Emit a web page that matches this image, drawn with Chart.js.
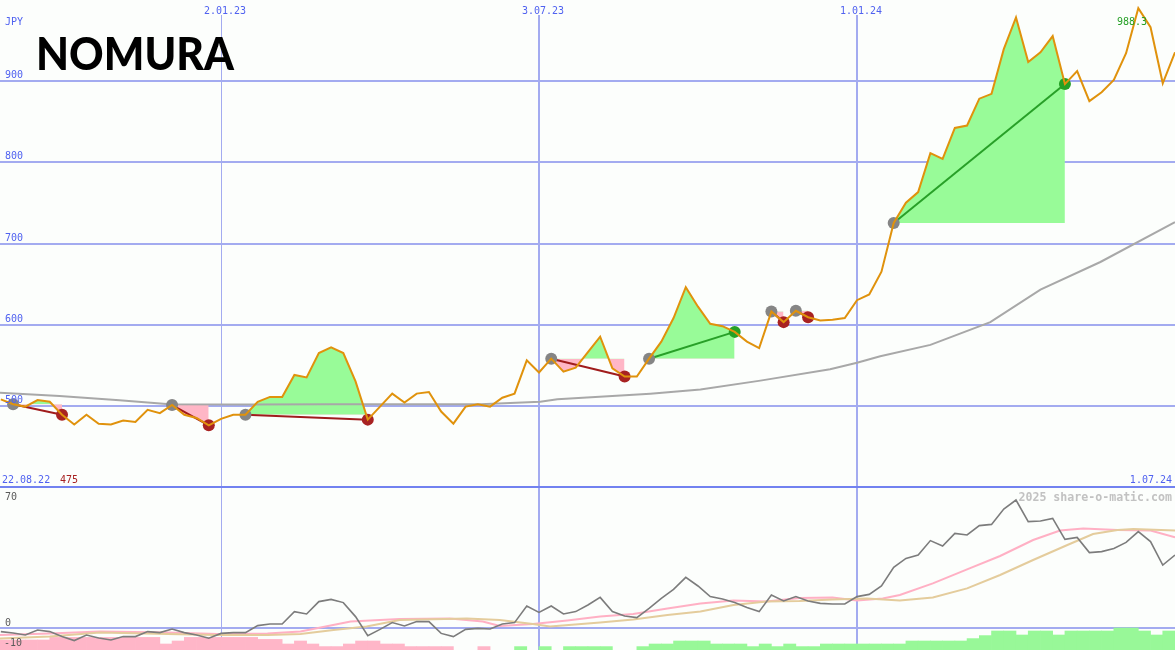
<!DOCTYPE html>
<html><head><meta charset="utf-8">
<script src="https://cdn.jsdelivr.net/npm/chart.js@4.4.0/dist/chart.umd.min.js"></script>
<style>
html,body{margin:0;padding:0;background:#fcfefc;}
#wrap{position:relative;width:1175px;height:650px;overflow:hidden;background:#fcfefc;}
#c1{position:absolute;left:0;top:0;}
#c2{position:absolute;left:0;top:488px;}
</style></head><body>
<div id="wrap"><canvas id="c1" width="1175" height="488"></canvas><canvas id="c2" width="1175" height="162"></canvas></div>
<script>
// ---------- DATA (weekly, week 1 = first visible week) ----------
const firstWeek = 1;
const price = [507,501,498,506,504,488,476,488,477,476,
481,479,494,490,500,488,484,475,483,488,
488,504,510,510,537,534,564,571,564,529,
482,498,514,503,514,516,492,477,498,501,
498,509,514,555,540,557,541,546,565,584,
545,535,535,557,578,607,645,621,600,597,
590,578,570,615,602,616,608,604,605,607,
629,636,664,724,749,762,810,803,841,844,
877,883,938,977,922,934,954,895,911,874,
885,900,933,988.3,965,896,934];
const maWeek  = [0.93,5.8,10.7,14.8,21.4,27.9,33.6,40.2,45.1,46.5,54.1,58.2,63.1,68.8,71,72.9,77,81.9,86,90.9,97];
const maValue = [515,511,506,501,500.6,501,501,501,504,507,514,519,530,544,552,560,574,602,642,676,725];
const tradeEntry = [2,15,21,46,54,64,66,74];
const tradeExit  = [6,18,31,52,61,65,67,88];
const priceTicks = [500,600,700,800,900];
const dateWeeks  = [19,45,71];
const dateLabels = ['2.01.23','3.07.23','1.01.24'];
const startLabel = '22.08.22', endLabel = '1.07.24';
const minLabel = '475', maxLabel = '988.3';
const currency = 'JPY';
// lower panel
const osc = [-2.3,-3,-4,-1.5,-2.3,-4.8,-6.8,-4,-5.5,-6.5,
-4.8,-4.8,-2.3,-2.8,-1,-2.8,-4,-5.6,-3.2,-2.8,
-2.8,0.7,1.5,1.5,7.7,6.5,12.7,13.8,12.2,5.2,
-4.3,-1.2,2.2,0.5,2.7,2.7,-3.2,-4.8,-1.2,-0.7,
-1,1.5,2.2,10.5,7.3,10.5,6.5,7.7,11,14.8,
7.7,5.5,4.7,9.3,14.3,18.8,24.8,20.5,15.2,14,
12.2,9.7,7.7,16,13,15.2,13,11.8,11.5,11.5,
15.2,16.3,20.5,29.8,34.3,36,43.2,40.5,46.8,46,
50.7,51.3,59,63.5,52.7,53,54.3,43.8,44.8,37.2,
37.7,39.3,42.3,47.7,42.7,31,36];
const pinkWeek  = [0.93,5,9.1,14.6,18.7,22.8,25.5,29.6,33.6,37.7,40.4,41.8,44.5,47.3,50,52.7,55.5,58.2,60.9,63.6,66.3,69,71,73.1,74.5,77.2,80,82.7,85.4,87.6,89.5,92.3,95,97];
const pinkValue = [-4,-3.2,-2.3,-2.8,-3.5,-3.2,-2.3,2.7,4,4.3,2.7,0.5,1.5,3.2,5.2,6.5,9.3,11.8,13.2,12.7,14.5,14.7,13.2,14.3,16,21.8,28.8,35.5,43.5,48.2,49.3,48.5,48.2,44.8];
const tanWeek   = [0.93,5,9.1,14.6,18.7,22.8,25.5,28.2,30.9,33.6,39.1,41.8,44.5,45.9,50,52.7,55.5,58.2,60.9,63.6,66.3,69,71.8,74.5,77.2,80,82.7,85.4,88.2,90.3,92.3,93.6,97];
const tanValue  = [-5.7,-4.8,-2.8,-3.5,-4,-4,-3.5,-1.5,0.2,3.5,4.3,3.5,1.5,0.2,2.2,3.8,6,7.7,11,12.7,13,13.8,14.3,13.2,14.8,19.3,26,33.5,41,46.5,48.5,49,48.2];
const hist = [-5,-5,-5,-5,-5,
-6.3,-6.3,-6.3,-6.3,-6.3,-6.3,-6.3,-6.3,-6.3,
-3,-4.5,
-6.3,-6.3,-6.3,-6.3,-6.3,-6.3,
-5.3,-5.3,-3,-4.5,-3,-1.7,-1.7,-3,-4.5,-4.5,-3,-3,
-1.7,-1.7,-1.7,-1.7,0,0,-1.7,0,0,1.7,0,1.7,0,
1.7,1.7,1.7,1.7,0,0,1.7,3,3,4.5,4.5,4.5,3,3,3,1.7,3,1.7,3,1.7,1.7,
3,3,3,3,3,3,3,
4.5,4.5,4.5,4.5,4.5,5.7,7.2,9.5,9.5,7.5,9.5,9.5,7.5,9.5,9.5,9.5,9.5,11,11,9.5,7.5,9.5];
const oscTicks = [70,0,-10];

// ---------- STYLE ----------
const C = {
  grid:'#a3abf0', divider:'#7282f0', label:'#5062f0',
  priceLine:'#e0920c', ma:'#a8a8a8',
  up:'#98fb98', down:'#ffb6c6',
  entry:'#858585', lossDot:'#a82222', winDot:'#25a025',
  lossLine:'#a01c1c', winLine:'#28a028',
  osc:'#7c7c7c', pink:'#ffb0c4', tan:'#e4cc9c',
  histUp:'#98f898', histDown:'#ffb6c8'
};
const X_MIN = 0.93, X_MAX = 97;
const Y_MIN = 397.85, Y_MAX = 998.46;
const L_MIN = -11.5, L_MAX = 69.5;
const MONO = '"DejaVu Sans Mono", monospace';

const pts = (ws, vs) => ws.map((w,i)=>({x:w,y:vs[i]}));
const priceAt = w => price[w-firstWeek];
const pricePts = price.map((v,i)=>({x:i+firstWeek,y:v}));

function gridPlugin(isMain){
  return {
    id:'grid'+(isMain?'M':'L'),
    beforeDatasetsDraw(chart){
      const ctx=chart.ctx, xs=chart.scales.x, ys=chart.scales.y, W=chart.width, H=chart.height;
      ctx.save();
      ctx.fillStyle=C.grid;
      const widths=[1,2,2];
      dateWeeks.forEach((w,i)=>{
        const x=Math.round(xs.getPixelForValue(w));
        const top=isMain?15:0;
        ctx.fillRect(x-(widths[i]>1?1:0),top,widths[i],H-top);
      });
      if(isMain){
        priceTicks.forEach(v=>{const y=Math.round(ys.getPixelForValue(v));ctx.fillRect(0,y,W,2);});
        ctx.fillStyle=C.divider;
        ctx.fillRect(0,Math.round(ys.getPixelForValue(Y_MIN))-2,W,2);
      } else {
        const y=Math.round(ys.getPixelForValue(0));ctx.fillRect(0,y,W,2);
      }
      ctx.restore();
    },
    afterDraw(chart){
      const ctx=chart.ctx, xs=chart.scales.x, ys=chart.scales.y, W=chart.width;
      ctx.save();
      ctx.textBaseline='alphabetic';
      if(isMain){
        ctx.font='10px '+MONO;
        ctx.fillStyle=C.label;
        ctx.textAlign='left';
        ctx.fillText(currency,5,25);
        priceTicks.forEach(v=>{ctx.fillText(String(v),5,Math.round(ys.getPixelForValue(v))-2);});
        dateWeeks.forEach((w,i)=>{ctx.fillText(dateLabels[i],Math.round(xs.getPixelForValue(w))-17,13.5);});
        ctx.fillText(startLabel,2,482.5);
        ctx.textAlign='right';
        ctx.fillText(endLabel,1172,482.5);
        ctx.textAlign='left';
        ctx.fillStyle='#a82222';
        ctx.fillText(minLabel,60,482.5);
        ctx.fillStyle='#25a025';
        ctx.fillText(maxLabel,1117,25);
        // logo
        ctx.fillStyle='#000';
        ctx.font='900 46px Lato, "Liberation Sans", Arial, sans-serif';
        ctx.fillText('NOMURA',36,70,198);
      } else {
        ctx.font='10px '+MONO;
        ctx.fillStyle='#5a5a5a';
        ctx.textAlign='left';
        ctx.fillText(String(oscTicks[0]),5,11.5);
        ctx.fillText(String(oscTicks[1]),5,Math.round(ys.getPixelForValue(0))-1);
        ctx.fillText(String(oscTicks[2]),4,Math.round(ys.getPixelForValue(-10))-1);
        ctx.font='bold 11.6px '+MONO;
        ctx.fillStyle='#c2c2c2';
        ctx.textAlign='right';
        ctx.fillText('2025 share-o-matic.com',1172,12.5);
      }
      ctx.restore();
    }
  };
}

// ---------- MAIN CHART ----------
const mainSets = [];
tradeEntry.forEach((e,i)=>{
  const x=tradeExit[i];
  const seg=[];
  for(let w=e;w<=x;w++) seg.push({x:w,y:priceAt(w)});
  mainSets.push({type:'line',data:seg,borderWidth:0,pointRadius:0,borderColor:'rgba(0,0,0,0)',
    fill:{target:{value:priceAt(e)},above:C.up,below:C.down},order:30});
});
mainSets.push({type:'line',data:pts(maWeek,maValue),borderColor:C.ma,borderWidth:2,pointRadius:0,fill:false,order:20});
tradeEntry.forEach((e,i)=>{
  const x=tradeExit[i], win=priceAt(x)>priceAt(e);
  mainSets.push({type:'line',data:[{x:e,y:priceAt(e)},{x:x,y:priceAt(x)}],borderColor:win?C.winLine:C.lossLine,borderWidth:2,pointRadius:0,fill:false,order:12});
});
mainSets.push({type:'line',showLine:false,data:tradeEntry.map(e=>({x:e,y:priceAt(e)})),pointRadius:6,pointBackgroundColor:C.entry,pointBorderWidth:0,order:8});
mainSets.push({type:'line',showLine:false,data:tradeExit.map(x=>({x:x,y:priceAt(x)})),pointRadius:6,
  pointBackgroundColor:tradeExit.map((x,i)=>priceAt(x)>priceAt(tradeEntry[i])?C.winDot:C.lossDot),pointBorderWidth:0,order:7});
mainSets.push({type:'line',data:pricePts,borderColor:C.priceLine,borderWidth:2,pointRadius:0,fill:false,tension:0,order:1});

const common = {
  responsive:false, maintainAspectRatio:false, animation:false,
  layout:{padding:0, autoPadding:false},
  plugins:{legend:{display:false},tooltip:{enabled:false}},
  events:[]
};
new Chart(document.getElementById('c1'),{
  type:'line',
  data:{datasets:mainSets},
  options:Object.assign({},common,{
    scales:{
      x:{type:'linear',min:X_MIN,max:X_MAX,display:false},
      y:{type:'linear',min:Y_MIN,max:Y_MAX,display:false}
    }
  }),
  plugins:[gridPlugin(true)]
});

// ---------- LOWER CHART ----------
const histData = [];
const histColors = [];
hist.forEach((v,k)=>{ if(v!==0){ histData.push({x:k+0.5,y:[L_MIN,L_MIN+Math.abs(v)]}); histColors.push(v>0?C.histUp:C.histDown);} });
new Chart(document.getElementById('c2'),{
  type:'line',
  data:{datasets:[
    {type:'bar',data:histData,backgroundColor:histColors,borderWidth:0,barPercentage:1,categoryPercentage:1,grouped:false,order:20},
    {type:'line',data:pts(pinkWeek,pinkValue),borderColor:C.pink,borderWidth:2,pointRadius:0,fill:false,order:6},
    {type:'line',data:pts(tanWeek,tanValue),borderColor:C.tan,borderWidth:2,pointRadius:0,fill:false,order:5},
    {type:'line',data:osc.map((v,i)=>({x:i+firstWeek,y:v})),borderColor:C.osc,borderWidth:1.6,pointRadius:0,fill:false,order:1}
  ]},
  options:Object.assign({},common,{
    scales:{
      x:{type:'linear',min:X_MIN,max:X_MAX,display:false,offset:false},
      y:{type:'linear',min:L_MIN,max:L_MAX,display:false}
    }
  }),
  plugins:[gridPlugin(false)]
});
</script>
</body></html>
